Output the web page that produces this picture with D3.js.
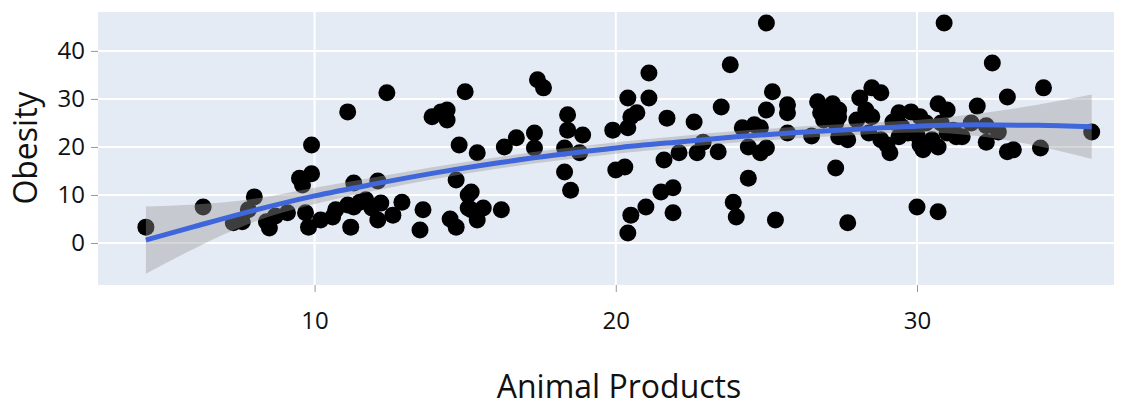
<!DOCTYPE html>
<html>
<head>
<meta charset="utf-8">
<script src="https://cdn.jsdelivr.net/npm/d3@7"></script>
<style>
  html, body { margin: 0; padding: 0; background: #fff; }
  #chart text { font-family: 'Open Sans', sans-serif; fill: #111; }
</style>
</head>
<body>
<div id="chart"></div>
<script>
// data
const animalProducts = [
  4.4, 6.3, 7.3, 7.6, 7.8, 8.0, 8.4, 8.5, 8.7, 9.1, 9.5, 9.9, 9.6, 9.9, 9.7, 9.8, 10.2, 10.6, 10.7, 11.2,
  11.3, 11.7, 12.1, 12.2, 12.6, 12.9, 13.6, 13.5, 14.5, 11.3, 12.1, 11.1, 12.4, 13.9, 14.2, 14.4, 14.4, 11.1, 11.5, 11.9,
  14.7, 14.7, 15.1, 15.1, 15.0, 17.4, 17.6, 18.4, 18.4, 18.9, 19.9, 14.8, 15.4, 16.3, 16.7, 17.3, 17.3, 18.3, 18.8, 15.2,
  18.3, 18.5, 15.2, 15.4, 15.6, 16.2, 25.0, 23.8, 21.1, 20.4, 21.1, 25.2, 23.5, 25.7, 25.7, 25.0, 20.5, 20.7, 21.7, 22.6,
  20.4, 24.2, 24.6, 24.8, 22.9, 24.4, 24.8, 25.0, 22.1, 22.7, 23.4, 21.6, 20.0, 20.3, 24.4, 21.5, 21.9, 21.0, 20.5, 21.9,
  23.9, 24.0, 25.3, 20.4, 30.9, 28.5, 28.8, 26.7, 27.2, 27.4, 26.8, 27.1, 27.4, 28.1, 28.3, 28.5, 28.0, 29.4, 29.8, 30.1,
  30.7, 31.0, 29.2, 25.7, 26.5, 27.4, 27.7, 28.4, 28.8, 29.0, 29.1, 29.4, 29.7, 30.0, 30.1, 30.2, 30.5, 30.7, 31.0, 31.3,
  27.3, 27.7, 30.0, 30.7, 26.9, 27.3, 29.5, 30.3, 30.8, 32.5, 34.2, 33.0, 32.0, 31.5, 31.8, 32.3, 32.7, 33.0, 33.2, 34.1,
  35.8, 31.2, 32.3
]
const obesity = [
  3.3, 7.5, 4.2, 4.4, 6.9, 9.6, 4.4, 3.1, 5.6, 6.3, 13.5, 14.4, 12.1, 20.4, 6.3, 3.3, 4.8, 5.4, 6.9, 3.3,
  7.5, 9.0, 4.8, 8.3, 5.8, 8.5, 6.9, 2.7, 5.0, 12.5, 12.9, 27.3, 31.3, 26.3, 27.3, 27.7, 25.6, 7.9, 8.5, 7.3,
  3.3, 13.1, 7.3, 10.0, 31.5, 34.0, 32.3, 26.7, 23.5, 22.5, 23.5, 20.4, 18.8, 20.0, 21.9, 22.9, 19.8, 19.8, 18.8, 10.6,
  14.8, 11.0, 6.9, 4.8, 7.3, 6.9, 45.8, 37.1, 35.4, 30.2, 30.2, 31.5, 28.3, 28.8, 27.1, 27.7, 26.3, 27.1, 26.0, 25.2,
  24.0, 24.0, 24.6, 24.0, 21.0, 20.0, 18.8, 19.8, 18.8, 18.8, 19.0, 17.3, 15.2, 15.8, 13.5, 10.6, 11.5, 7.5, 5.8, 6.3,
  8.5, 5.4, 4.8, 2.1, 45.8, 32.3, 31.3, 29.4, 29.0, 27.7, 27.1, 26.3, 26.3, 30.2, 27.7, 26.3, 25.6, 27.1, 27.3, 26.3,
  29.0, 27.7, 25.2, 22.9, 22.3, 22.1, 21.5, 22.9, 21.5, 20.4, 18.8, 22.1, 22.9, 22.5, 20.4, 19.4, 21.5, 20.0, 22.9, 22.1,
  15.6, 4.2, 7.5, 6.5, 25.6, 25.0, 24.2, 25.0, 25.0, 37.5, 32.3, 30.4, 28.5, 22.1, 25.0, 21.0, 23.1, 19.0, 19.4, 19.8,
  23.1, 23.5, 24.4
]

// loess fit and its confidence band
const smoothX = [4.4, 6, 8, 10, 12, 14, 16, 18, 20, 22, 24, 26, 28, 30, 32, 34, 35.8]
const smoothFit = [0.6, 3.4, 6.8, 9.8, 12.3, 14.6, 16.6, 18.3, 19.8, 21.0, 22.1, 23.0, 23.7, 24.3, 24.6, 24.5, 24.2]
const smoothLow = [-6.4, -1.2, 4.4, 8.1, 10.9, 13.3, 15.4, 17.1, 18.6, 19.8, 20.9, 21.8, 22.5, 23.0, 22.3, 20.2, 17.5]
const smoothHigh = [7.6, 8.0, 9.2, 11.5, 13.7, 15.9, 17.8, 19.5, 21.0, 22.2, 23.3, 24.2, 24.9, 25.6, 26.9, 28.8, 30.9]

const xTicks = [10, 20, 30]
const yTicks = [0, 10, 20, 30, 40]

const WIDTH = 1126
const HEIGHT = 407
const MARGIN = { top: 12, right: 12, bottom: 122, left: 98 }
const chartWidth = WIDTH - MARGIN.left - MARGIN.right
const chartHeight = HEIGHT - MARGIN.top - MARGIN.bottom

const svg = d3.select('#chart')
  .append('svg')
  .attr('width', WIDTH)
  .attr('height', HEIGHT)

const g = svg.append('g')
  .attr('transform', `translate(${MARGIN.left},${MARGIN.top})`)

// =================== Scale setting =================
const xScale = d3.scaleLinear()
  .domain([2.81, 36.54])
  .range([0, chartWidth])

const yScale = d3.scaleLinear()
  .domain([-8.75, 48.1])
  .range([chartHeight, 0])

// panel + grid
g.append('rect')
  .attr('width', chartWidth)
  .attr('height', chartHeight)
  .attr('fill', '#E5EBF5')

g.selectAll('line.gx')
  .data(xTicks)
  .enter()
  .append('line')
  .attr('x1', d => xScale(d))
  .attr('x2', d => xScale(d))
  .attr('y1', 0)
  .attr('y2', chartHeight)
  .attr('stroke', '#fff')
  .attr('stroke-width', 2)

g.selectAll('line.gy')
  .data(yTicks)
  .enter()
  .append('line')
  .attr('x1', 0)
  .attr('x2', chartWidth)
  .attr('y1', d => yScale(d))
  .attr('y2', d => yScale(d))
  .attr('stroke', '#fff')
  .attr('stroke-width', 2)

// =================== Axes =================
const xAxis = d3.axisBottom(xScale)
  .tickValues(xTicks)
  .tickSize(7)
  .tickPadding(20)

const yAxis = d3.axisLeft(yScale)
  .tickValues(yTicks)
  .tickSize(7)
  .tickPadding(6)

g.append('g')
  .attr('transform', `translate(0,${chartHeight})`)
  .call(xAxis)

g.append('g')
  .call(yAxis)

g.selectAll('.domain').remove()
g.selectAll('.tick line').attr('stroke', '#999')
g.selectAll('.tick text')
  .style('font-size', '24px')
  .style('font-family', "'Open Sans', sans-serif")
  .attr('fill', '#111')

// =================== Points =================
const points = animalProducts.map((x, i) => ({ x, y: obesity[i] }))

g.selectAll('circle.pt')
  .data(points)
  .enter()
  .append('circle')
  .attr('class', 'pt')
  .attr('cx', d => xScale(d.x))
  .attr('cy', d => yScale(d.y))
  .attr('r', 8.5)
  .attr('fill', '#000')

// =================== Smooth =================
const smooth = smoothX.map((x, i) => ({ x, fit: smoothFit[i], lo: smoothLow[i], hi: smoothHigh[i] }))

const band = d3.area()
  .x(d => xScale(d.x))
  .y0(d => yScale(d.lo))
  .y1(d => yScale(d.hi))
  .curve(d3.curveMonotoneX)

g.append('path')
  .datum(smooth)
  .attr('d', band)
  .attr('fill', '#999')
  .attr('fill-opacity', 0.4)

const line = d3.line()
  .x(d => xScale(d.x))
  .y(d => yScale(d.fit))
  .curve(d3.curveMonotoneX)

g.append('path')
  .datum(smooth)
  .attr('d', line)
  .attr('fill', 'none')
  .attr('stroke', '#3F66DB')
  .attr('stroke-width', 5)

// =================== Titles =================
svg.append('text')
  .attr('x', 619)
  .attr('y', 398)
  .attr('text-anchor', 'middle')
  .style('font-size', '32px')
  .text('Animal Products')

svg.append('text')
  .attr('transform', 'translate(37,148) rotate(-90)')
  .attr('text-anchor', 'middle')
  .style('font-size', '32px')
  .text('Obesity')
</script>
</body>
</html>
